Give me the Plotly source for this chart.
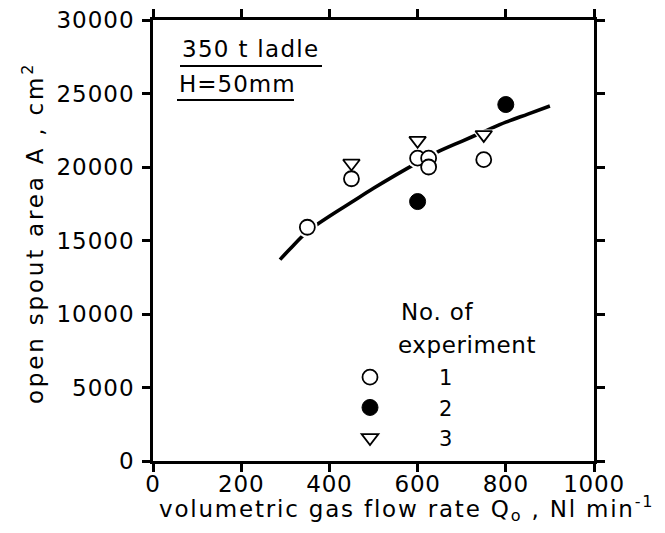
import plotly.graph_objects as go

# ---- data ----
exp1_q = [350, 450, 600, 625, 625, 750]
exp1_a = [15900, 19200, 20600, 20600, 20000, 20500]
exp2_q = [600, 800]
exp2_a = [17650, 24250]
exp3_q = [450, 600, 750]
exp3_a = [20250, 21800, 22200]

fit_q = [288, 310, 350, 400, 450, 500, 550, 600, 650, 700, 750, 800, 850, 900]
fit_a = [13700, 14400, 15600, 16650, 17600, 18550, 19450, 20300, 21100, 21750, 22400, 23050, 23600, 24150]

x_ticks = [0, 200, 400, 600, 800, 1000]
y_ticks = [0, 5000, 10000, 15000, 20000, 25000, 30000]

FONT = "DejaVu Sans"
OFF = 8  # default page margin of the html body
W, H = 665 - OFF, 533 - OFF
L, T = 153 - OFF, 20 - OFF
PW, PH = 441, 441
R, B = W - L - PW, H - T - PH


def px(xp):
    return (xp - OFF - L) / PW


def py(yp):
    return (T + PH - (yp - OFF)) / PH


def spaced(s, sp):
    return '<span style="letter-spacing:%.1fpx">%s</span>' % (sp, s)


fig = go.Figure()

# fitted curve
fig.add_trace(go.Scatter(x=fit_q, y=fit_a, mode="lines", line=dict(color="black", width=3.6, shape="spline"),
                         showlegend=False, hoverinfo="skip"))

# white halos around markers (gaps in curve)
for xs, ys, sym, sz in [(exp1_q, exp1_a, "circle", 21), (exp3_q, exp3_a, "triangle-down", 21)]:
    fig.add_trace(go.Scatter(x=xs, y=ys, mode="markers", showlegend=False, hoverinfo="skip",
                             marker=dict(symbol=sym, size=sz, color="white", line=dict(width=0))))

fig.add_trace(go.Scatter(x=exp1_q, y=exp1_a, mode="markers", name="1",
                         marker=dict(symbol="circle", size=15, color="white", line=dict(color="black", width=1.8))))
fig.add_trace(go.Scatter(x=exp2_q, y=exp2_a, mode="markers", name="2",
                         marker=dict(symbol="circle", size=16, color="black", line=dict(color="black", width=1))))
fig.add_trace(go.Scatter(x=exp3_q, y=exp3_a, mode="markers", name="3",
                         marker=dict(symbol="triangle-down", size=14.5, color="white", line=dict(color="black", width=1.8))))

axis_common = dict(showline=True, linecolor="black", linewidth=2.5, mirror="ticks", ticks="outside",
                   ticklen=8, tickwidth=2.5, tickcolor="black", showgrid=False, zeroline=False,
                   ticklabeloverflow="allow",
                   tickfont=dict(family=FONT, size=23, color="black"))

fig.update_xaxes(range=[0, 1000], tickvals=x_ticks, ticktext=[spaced(str(v), 0.8) for v in x_ticks],
                 ticklabelstandoff=-7, **axis_common)
fig.update_yaxes(range=[0, 30000], tickvals=y_ticks, ticktext=[spaced(str(v), 1.0) for v in y_ticks],
                 ticklabelstandoff=3, **axis_common)

annos = [
    dict(text=spaced("350 t ladle", 1.3), x=px(180), y=py(49), xanchor="left"),
    dict(text=spaced("H=50mm", 1.0), x=px(177), y=py(84), xanchor="left"),
    dict(text=spaced("No. of", 0.8), x=px(399), y=py(312), xanchor="left"),
    dict(text=spaced("experiment", 0.6), x=px(396), y=py(345), xanchor="left"),
    dict(text=spaced("volumetric gas flow rate Q<sub>o</sub> , Nl min<sup>-1</sup>", 1.8), x=px(406), y=py(508),
         xanchor="center"),
]
for a in annos:
    fig.add_annotation(text=a["text"], x=a["x"], y=a["y"], xref="paper", yref="paper",
                       xanchor=a["xanchor"], yanchor="middle", showarrow=False,
                       font=dict(family=FONT, size=23, color="black"))

fig.add_annotation(text=spaced("open spout area A , cm<sup>2</sup>", 2.8), x=px(33), y=py(233),
                   xref="paper", yref="paper", textangle=-90, showarrow=False,
                   xanchor="center", yanchor="middle", font=dict(family=FONT, size=23, color="black"))

# underlines of the label box
fig.add_shape(type="line", xref="paper", yref="paper", x0=px(180), x1=px(322), y0=py(66), y1=py(66),
              line=dict(color="black", width=2))
fig.add_shape(type="line", xref="paper", yref="paper", x0=px(177), x1=px(294), y0=py(100), y1=py(100),
              line=dict(color="black", width=2))

fig.update_layout(
    width=W, height=H,
    margin=dict(l=L, r=R, t=T, b=B, autoexpand=False),
    paper_bgcolor="white", plot_bgcolor="white",
    showlegend=True,
    legend=dict(x=px(301), y=py(357), xanchor="left", yanchor="top", bgcolor="rgba(0,0,0,0)",
                itemwidth=128, font=dict(family=FONT, size=21, color="black"), tracegroupgap=0,
                itemsizing="trace"),
)

fig.write_html("out.html")
